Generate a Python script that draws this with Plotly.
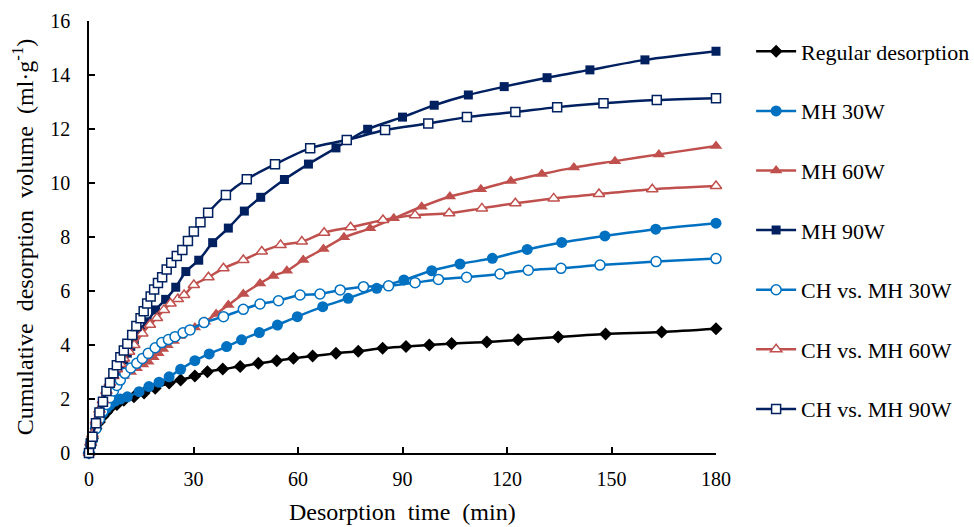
import plotly.graph_objects as go

# ---------------- data ----------------
t_regular = [0, 0.5, 1, 2, 3, 4, 5, 6, 8, 10, 12.9, 15.8, 19, 23, 26.3, 30.4, 34.0, 38.4, 43.4, 48.6, 53.9, 58.7,
             64.2, 70.9, 77.3, 84.3, 91.0, 97.7, 104.1, 114.2, 123.2, 134.7, 148.3, 164.4, 180]
v_regular = [0, 0.3, 0.55, 0.9, 1.15, 1.35, 1.5, 1.65, 1.8, 1.95, 2.08, 2.22, 2.4, 2.59, 2.7, 2.85, 3.01, 3.11, 3.2,
             3.32, 3.42, 3.51, 3.59, 3.69, 3.77, 3.88, 3.94, 4.0, 4.06, 4.11, 4.19, 4.3, 4.41, 4.48, 4.6]

t_mh30 = [0, 0.5, 1, 2, 3, 4, 5, 6, 7.5, 9, 11, 14.4, 17.2, 20.1, 23, 26.3, 30.4, 34.5, 39.5, 43.8, 48.9, 54.1, 59.8,
          67.1, 74.4, 82.6, 90.4, 98.4, 106.5, 115.8, 125.8, 135.7, 148.1, 162.7, 180]
v_mh30 = [0, 0.35, 0.6, 1.0, 1.3, 1.5, 1.65, 1.78, 1.92, 2.0, 2.08, 2.27, 2.46, 2.62, 2.82, 3.1, 3.42, 3.67, 3.94,
          4.19, 4.46, 4.74, 5.05, 5.42, 5.73, 6.1, 6.41, 6.75, 7.0, 7.21, 7.54, 7.8, 8.04, 8.29, 8.51]

t_mh60 = [0, 0.5, 1, 2, 3, 4, 5, 6, 7, 8, 10, 12, 13.7, 15.5, 17, 18.5, 19.9, 21.2, 22.5, 24.3, 26.1, 28.3, 30.4,
          33.3, 36.5, 40.0, 44.3, 49.1, 52.9, 56.8, 61.5, 67.3, 73.2, 80.7, 87.5, 95.5, 103.6, 112.5, 121.1, 130.0,
          139.2, 151.0, 163.6, 180]
v_mh60 = [0, 0.4, 0.7, 1.15, 1.5, 1.8, 2.05, 2.25, 2.45, 2.6, 2.85, 3.0, 3.14, 3.28, 3.38, 3.55, 3.69, 3.85, 3.99,
          4.15, 4.33, 4.48, 4.65, 4.86, 5.15, 5.48, 5.89, 6.28, 6.56, 6.75, 7.15, 7.56, 7.99, 8.32, 8.69, 9.12, 9.5,
          9.77, 10.07, 10.33, 10.57, 10.81, 11.06, 11.37]

t_mh90 = [0, 0.5, 1, 2, 3, 4, 5, 6, 7, 8, 9, 10, 11, 12, 13, 14.8, 16.7, 19.1, 22.0, 24.9, 27.8, 31.5, 35.5, 40.0,
          44.6, 49.3, 56.1, 63.0, 70.9, 80.0, 90.0, 99.1, 108.9, 119.2, 131.5, 143.8, 159.6, 180]
v_mh90 = [0, 0.35, 0.6, 1.0, 1.35, 1.7, 2.0, 2.3, 2.6, 2.9, 3.2, 3.45, 3.7, 3.95, 4.2, 4.56, 4.86, 5.30, 5.69, 6.14,
          6.72, 7.14, 7.79, 8.33, 8.96, 9.47, 10.13, 10.7, 11.3, 11.99, 12.44, 12.88, 13.26, 13.57, 13.9, 14.19,
          14.56, 14.88]

t_ch30 = [0, 0.5, 1, 2, 3, 4, 5, 6, 7, 8, 9, 10.3, 12, 13.7, 15.3, 17, 19, 20.9, 22.8, 24.7, 27, 29, 33, 38.6,
          44.3, 49.1, 54.4, 60.6, 66.3, 72.1, 78.8, 86, 93.6, 100.3, 108.4, 118, 126.1, 135.5, 146.7, 162.8, 180]
v_ch30 = [0, 0.3, 0.5, 0.9, 1.25, 1.55, 1.8, 2.05, 2.3, 2.5, 2.7, 2.95, 3.15, 3.32, 3.5, 3.69, 3.9, 4.09, 4.2,
          4.31, 4.45, 4.56, 4.83, 5.05, 5.32, 5.52, 5.64, 5.85, 5.89, 6.04, 6.16, 6.19, 6.31, 6.43, 6.51, 6.63,
          6.77, 6.84, 6.96, 7.09, 7.2]

t_ch60 = [0, 0.5, 1, 2, 3, 4, 5, 6, 7, 8, 9, 10, 11.5, 13, 15.3, 17.5, 19.5, 21.5, 23.4, 25.5, 27.3, 30.1, 34.3,
          38.6, 44.3, 49.6, 55, 61.1, 67.5, 75.1, 84.4, 93.6, 103.4, 112.8, 122.4, 133.4, 146.4, 161.7, 180]
v_ch60 = [0, 0.4, 0.7, 1.2, 1.6, 1.95, 2.3, 2.6, 2.85, 3.1, 3.3, 3.5, 3.75, 4.0, 4.43, 4.75, 5.0, 5.3, 5.54, 5.7,
          5.85, 6.22, 6.51, 6.84, 7.15, 7.46, 7.7, 7.83, 8.16, 8.36, 8.63, 8.81, 8.88, 9.06, 9.25, 9.43, 9.59, 9.77,
          9.89]

t_ch90 = [0, 0.5, 1, 2, 3, 4, 5, 6, 7, 8, 9, 10, 11, 12.4, 13.6, 14.8, 15.7, 16.7, 17.7, 18.7, 19.8, 21, 22.3,
          23.6, 25.2, 26.8, 28.4, 30.1, 32, 34.2, 39.3, 45.3, 53.4, 63.5, 74, 85, 97.4, 108.5, 122.4, 134.4, 147.7,
          163, 180]
v_ch90 = [0, 0.35, 0.6, 1.1, 1.5, 1.9, 2.3, 2.6, 2.95, 3.25, 3.55, 3.8, 4.05, 4.37, 4.7, 4.99, 5.25, 5.54, 5.8,
          6.06, 6.3, 6.51, 6.8, 7.05, 7.3, 7.52, 7.85, 8.2, 8.55, 8.9, 9.56, 10.14, 10.69, 11.29, 11.59, 11.96,
          12.2, 12.44, 12.63, 12.81, 12.95, 13.07, 13.14]

x_ticks = [0, 30, 60, 90, 120, 150, 180]
y_ticks = [0, 2, 4, 6, 8, 10, 12, 14, 16]
x_title = "Desorption  time  (min)"
y_title = "Cumulative  desorption  volume  (ml·g<sup>-1</sup>)"

BLACK = "#000000"
BLUE = "#0070C0"
RED = "#C0504D"
NAVY = "#002060"
FONT = "Liberation Serif"

series = [
    ("Regular desorption", t_regular, v_regular, BLACK, "diamond", True, 10),
    ("MH 30W", t_mh30, v_mh30, BLUE, "circle", True, 11),
    ("MH 60W", t_mh60, v_mh60, RED, "triangle-up", True, 11),
    ("MH 90W", t_mh90, v_mh90, NAVY, "square", True, 9),
    ("CH vs. MH 30W", t_ch30, v_ch30, BLUE, "circle", False, 10),
    ("CH vs. MH 60W", t_ch60, v_ch60, RED, "triangle-up", False, 10),
    ("CH vs. MH 90W", t_ch90, v_ch90, NAVY, "square", False, 9),
]

fig = go.Figure()
for i, (name, t, v, col, sym, filled, size) in enumerate(series):
    fig.add_trace(go.Scatter(
        x=t, y=v, name=name, mode="lines+markers",
        line=dict(color=col, width=2.5, shape="spline", smoothing=0.8),
        marker=dict(symbol=sym, size=size,
                    color=col if filled else "white",
                    line=dict(color=col, width=1.5 if not filled else 0)),
        legendgroup=f"g{i}",
        cliponaxis=False,
    ))

fig.add_annotation(text=x_title, xref="paper", yref="paper", x=0.5, y=-0.136,
                   xanchor="center", yanchor="middle", showarrow=False,
                   font=dict(family=FONT, size=24, color="black"))

fig.update_layout(
    width=974, height=527,
    margin=dict(l=89, r=258, t=21, b=74, autoexpand=False),
    paper_bgcolor="white", plot_bgcolor="white",
    font=dict(family=FONT, size=20, color="black"),
    showlegend=True,
    legend=dict(x=1.056, y=0.978, xanchor="left", yanchor="top",
                font=dict(family=FONT, size=22, color="black"),
                tracegroupgap=28, traceorder="grouped", itemwidth=40,
                bgcolor="rgba(0,0,0,0)"),
    xaxis=dict(range=[0, 180], tickvals=x_ticks, ticktext=[str(x) for x in x_ticks],
               showline=True, linecolor="black", linewidth=1.5,
               ticks="inside", ticklen=6, tickwidth=1.5, tickcolor="black",
               showgrid=False, zeroline=False, automargin=False,
               tickfont=dict(family=FONT, size=20, color="black"), ticklabelstandoff=7),
    yaxis=dict(range=[0, 16], tickvals=y_ticks, ticktext=[str(y) for y in y_ticks],
               showline=True, linecolor="black", linewidth=1.5,
               ticks="inside", ticklen=6, tickwidth=1.5, tickcolor="black",
               showgrid=False, zeroline=False, automargin=False,
               tickfont=dict(family=FONT, size=20, color="black"), ticklabelstandoff=13,
               title=dict(text=y_title, font=dict(family=FONT, size=24, color="black"), standoff=10)),
)

fig.write_html("out.html")
